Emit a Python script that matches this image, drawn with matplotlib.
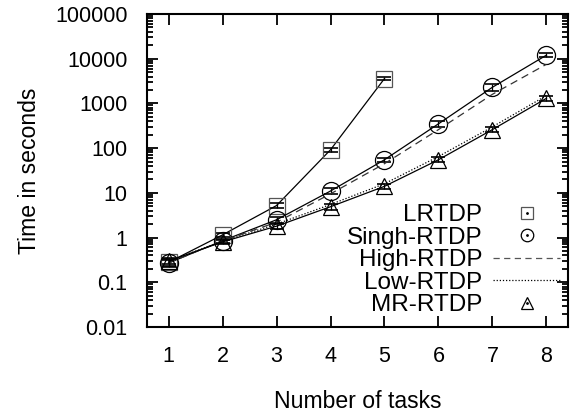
import numpy as np
import matplotlib
matplotlib.use("Agg")
import matplotlib.pyplot as plt
from matplotlib.lines import Line2D

plt.rcParams['font.family'] = ['Liberation Sans', 'DejaVu Sans']

# data
tasks = [1, 2, 3, 4, 5, 6, 7, 8]
lrtdp = [0.28, 1.15, 5.2, 92, 3600]
lrtdp_err = [0.05, 0.12, 0.6, 10, 250]
singh = [0.27, 0.85, 2.5, 11, 55, 350, 2300, 12000]
singh_err = [0.05, 0.1, 0.4, 1.8, 6, 60, 450, 1200]
high = [0.27, 0.85, 2.2, 9.5, 45, 260, 1600, 7500]
low = [0.3, 0.82, 2.0, 5.5, 16, 65, 300, 1500]
mr = [0.3, 0.8, 1.8, 4.9, 14, 55, 260, 1300]
mr_err = [0.05, 0.1, 0.25, 0.7, 2, 7, 35, 180]

labels = ["LRTDP", "Singh-RTDP", "High-RTDP", "Low-RTDP", "MR-RTDP"]

fs_tick = 15.5
fs_label = 16.6
fs = 17.5
fig = plt.figure(figsize=(5.78, 4.13), dpi=100)
ax = fig.add_axes([147 / 578, 1 - 327 / 413, (568 - 147) / 578, (327 - 14) / 413])

lw = 0.9
ms = 12
ax.plot(tasks[:5], lrtdp, color='black', lw=lw)
ax.errorbar(tasks[:5], lrtdp, yerr=lrtdp_err, fmt='none', ecolor='black',
            elinewidth=lw, capsize=5, capthick=1.2)
ax.plot(tasks[:5], lrtdp, 's', ms=ms, mfc='none', mec='#555555', mew=0.9)

ax.plot(tasks, singh, color='black', lw=lw)
ax.errorbar(tasks, singh, yerr=singh_err, fmt='none', ecolor='black',
            elinewidth=lw, capsize=5, capthick=1.2)
ax.plot(tasks, singh, 'o', ms=ms + 1, mfc='none', mec='black', mew=0.9)

ax.plot(tasks, high, color='#333333', lw=lw, ls=(0, (6, 4)))
ax.plot(tasks, low, color='black', lw=lw, ls=(0, (1, 1.5)))

ax.plot(tasks, mr, color='black', lw=lw)
ax.errorbar(tasks, mr, yerr=mr_err, fmt='none', ecolor='black',
            elinewidth=lw, capsize=5, capthick=1.2)
ax.plot(tasks, mr, '^', ms=ms, mfc='none', mec='black', mew=0.9)

ax.set_yscale('log')
ax.set_ylim(0.01, 100000)
ax.set_xlim(0.6, 8.4)
ax.set_xticks(tasks)
ax.set_yticks([0.01, 0.1, 1, 10, 100, 1000, 10000, 100000])
ax.set_yticklabels(["0.01", "0.1", "1", "10", "100", "1000", "10000", "100000"])

ax.tick_params(which='both', direction='in', top=True, right=True,
               labelsize=fs_tick, width=1.3)
ax.tick_params(which='major', length=8, pad=14)
ax.tick_params(which='minor', length=4)
ax.tick_params(axis='x', which='minor', bottom=False, top=False)
for s in ax.spines.values():
    s.set_linewidth(1.5)

ax.set_xlabel("Number of tasks", fontsize=fs_label, labelpad=16)
ax.set_ylabel("Time in seconds", fontsize=fs_label, labelpad=10)

dot = Line2D([], [], ls='none', marker='.', ms=2, color='black')
handles = [
    (Line2D([], [], ls='none', marker='s', ms=8, mfc='none', mec='#555555', mew=0.9), dot),
    (Line2D([], [], ls='none', marker='o', ms=9, mfc='none', mec='black', mew=0.9), dot),
    Line2D([], [], color='#555555', lw=lw, ls=(0, (5, 3.5))),
    Line2D([], [], color='black', lw=lw, ls=(0, (1, 1.5))),
    (Line2D([], [], ls='none', marker='^', ms=9, mfc='none', mec='black', mew=0.9), dot),
]
leg = ax.legend(handles, labels, loc='lower right', markerfirst=False,
                frameon=False, fontsize=fs, handlelength=2.75,
                handletextpad=0.45, labelspacing=0.02, borderaxespad=0.0,
                borderpad=0.33, bbox_to_anchor=(1.0, 0.008))
for t in leg.get_texts():
    t.set_ha('right')

fig.savefig("out.png", dpi=100)
